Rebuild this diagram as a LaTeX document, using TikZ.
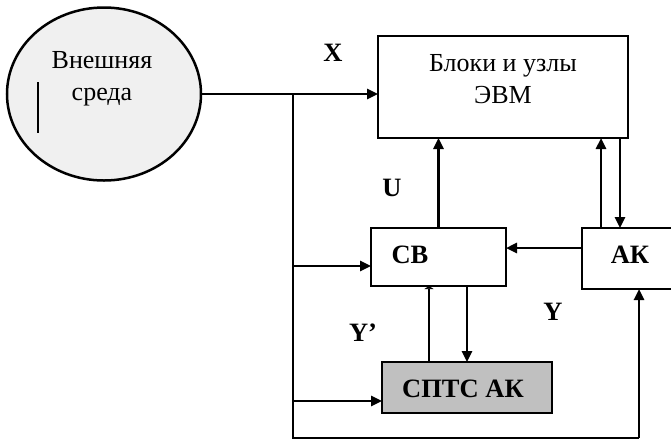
\documentclass[tikz,border=0pt]{standalone}
\usepackage{fontspec}
\setmainfont{Liberation Serif}
\usetikzlibrary{arrows.meta,shapes.geometric}
\definecolor{envfill}{HTML}{F0F0F0}
\definecolor{spfill}{HTML}{C0C0C0}
\begin{document}
\begin{tikzpicture}[x=1pt,y=-1pt,
  every node/.style={inner sep=0pt,outer sep=0pt},
  conn/.style={line width=2.5pt},
  arr/.style={line width=2.5pt,-{Triangle[length=11pt,width=10pt]}},
  boxx/.style={draw,line width=2.5pt,rectangle},
  txt/.style={font=\fontsize{26}{32}\selectfont,align=center},
  lbl/.style={font=\fontsize{26.5}{30}\selectfont\bfseries}]
\useasboundingbox (0,0) rectangle (671,440);
% nodes
\node[draw,line width=2.5pt,ellipse,fill=envfill,minimum width=194pt,minimum height=173pt] (env) at (104,94) {};
\node[txt] (envt) at (102,79) {Внешняя\\среда};
\node[boxx,minimum width=250pt,minimum height=102pt] (blk) at (503,87) {};
\node[txt] (blkt) at (503,79) {Блоки и узлы\\ЭВМ};
\node[boxx,minimum width=135pt,minimum height=58pt] (cb) at (438.5,257) {};
\node[lbl] (cbt) at (410,255) {СВ};
\node[boxx,minimum width=100pt,minimum height=61pt] (ak) at (632,258.5) {};
\node[lbl] (akt) at (630,255) {АК};
\node[boxx,fill=spfill,minimum width=170pt,minimum height=51pt] (sp) at (467,387.5) {};
\node[lbl] (spt) at (463,389) {СПТС АК};
% labels
\node[lbl] (lx) at (333,53) {X};
\node[lbl] (lu) at (392,188) {U};
\node[lbl] (lyp) at (363,333) {Y’};
\node[lbl] (ly) at (553,312) {Y};
% coordinates
\coordinate (vt) at (293,94);
\coordinate (bl) at (293,438);
\coordinate (br) at (639,438);
\coordinate (c1) at (293,266);
\coordinate (c2) at (293,401);
\coordinate (m1) at (38,82);
\coordinate (m2) at (38,133);
% mark inside ellipse
\draw[conn] (m1) -- (m2);
% connectors
\draw[arr] (env.east) -- (env.east -| blk.west);
\draw[conn] (vt) -- (bl) -- (br);
\draw[arr] (br) -- (br |- ak.south);
\draw[arr] (c1) -- (c1 -| cb.west);
\draw[arr] (c2) -- (c2 -| sp.west);
\draw[arr] (cb.north) -- (cb.north |- blk.south);
\draw[arr] (ak.north -| 601,0) -- (blk.south -| 601,0);
\draw[arr] (blk.south -| 620,0) -- (ak.north -| 620,0);
\draw[arr] (ak.west |- 0,248) -- (cb.east |- 0,248);
\draw[line width=2.5pt,-{Triangle[length=3pt,width=9pt]}] (sp.north -| 429,0) -- (cb.south -| 429,0);
\draw[arr] (cb.south -| 467,0) -- (sp.north -| 467,0);
\end{tikzpicture}
\end{document}
